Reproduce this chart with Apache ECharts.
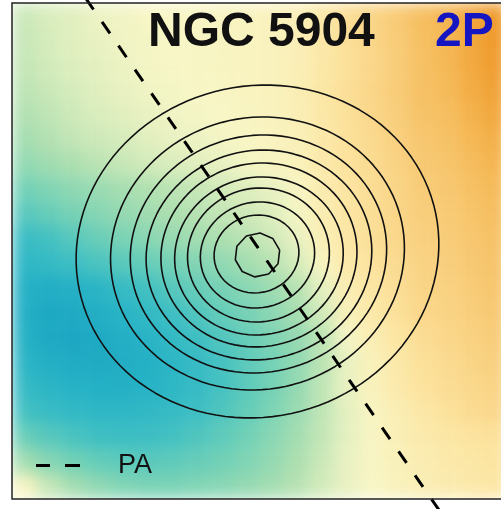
<!DOCTYPE html>
<html>
<head>
<meta charset="utf-8">
<script src="https://cdn.jsdelivr.net/npm/echarts@6/dist/echarts.min.js"></script>
<style>
  html, body { margin: 0; padding: 0; background: #ffffff; }
  #stage { position: relative; width: 501px; height: 509px; overflow: hidden; }
  #heatClip { position: absolute; left: 12px; top: 3px; width: 496px; height: 496px; overflow: hidden; }
  #heat { position: absolute; left: 0; top: 0; width: 496px; height: 496px; filter: url(#smooth); }
  #chart { position: absolute; left: 0; top: 0; width: 501px; height: 509px; }
</style>
</head>
<body>
<svg width="0" height="0" style="position:absolute">
  <defs>
    <filter id="smooth" x="0" y="0" width="1" height="1" color-interpolation-filters="sRGB">
      <feGaussianBlur stdDeviation="8" edgeMode="duplicate"/>
    </filter>
  </defs>
</svg>
<div id="stage">
  <div id="heatClip"><div id="heat"></div></div>
  <div id="chart"></div>
</div>
<script>
// Line-of-sight velocity map, 20 x 20 cells, rows from north (top) to south,
// columns from east (left) to west. Values in arbitrary km/s-like units.
const velocityRows = [
  [-1.2, -0.8, -0.6, -0.3, -0.2, 0.0, 0.0, 0.1, 0.2, 0.3, 0.5, 0.8, 1.6, 2.5, 3.3, 4.2, 5.2, 5.9, 6.9, 7.8],
  [-1.3, -0.9, -0.6, -0.4, -0.2, -0.1, 0.0, 0.1, 0.2, 0.3, 0.5, 0.8, 1.6, 2.4, 3.2, 4.1, 5.1, 5.8, 6.8, 7.8],
  [-1.4, -1.0, -0.7, -0.5, -0.3, -0.1, 0.0, 0.1, 0.2, 0.3, 0.5, 0.8, 1.6, 2.3, 3.1, 4.0, 5.0, 5.7, 6.7, 7.6],
  [-1.6, -1.2, -0.9, -0.6, -0.4, -0.2, -0.1, 0.0, 0.1, 0.3, 0.5, 0.9, 1.7, 2.4, 3.2, 4.1, 5.0, 5.5, 6.5, 7.3],
  [-1.9, -1.5, -1.1, -0.8, -0.6, -0.4, -0.2, -0.1, 0.0, 0.2, 0.4, 0.8, 1.6, 2.3, 3.1, 3.9, 4.8, 5.2, 6.1, 6.9],
  [-2.3, -1.8, -1.4, -1.1, -0.9, -0.6, -0.4, -0.3, -0.1, 0.1, 0.3, 0.7, 1.5, 2.2, 2.9, 3.7, 4.5, 4.9, 5.7, 6.4],
  [-2.9, -2.4, -2.0, -1.6, -1.3, -1.0, -0.8, -0.6, -0.4, -0.1, 0.2, 0.6, 1.4, 2.1, 2.8, 3.5, 4.3, 4.6, 5.3, 6.0],
  [-4.0, -3.5, -3.0, -2.6, -2.2, -1.9, -1.6, -1.3, -1.0, -0.7, -0.4, 0.1, 1.1, 1.9, 2.6, 3.3, 4.1, 4.4, 5.0, 5.6],
  [-5.0, -4.4, -3.8, -3.3, -2.8, -2.4, -2.0, -1.7, -1.4, -1.1, -0.7, -0.1, 1.0, 1.8, 2.5, 3.2, 3.9, 4.2, 4.7, 5.3],
  [-6.5, -5.8, -5.0, -4.3, -3.7, -3.2, -2.7, -2.3, -2.0, -1.6, -1.1, -0.4, 0.8, 1.7, 2.4, 3.1, 3.7, 4.0, 4.5, 5.0],
  [-7.4, -6.8, -6.1, -5.5, -4.9, -4.4, -3.9, -3.4, -2.9, -2.3, -1.7, -0.9, 0.2, 1.4, 2.1, 2.8, 3.5, 3.8, 4.3, 4.8],
  [-8.3, -8.7, -8.4, -7.6, -6.6, -5.8, -5.0, -4.4, -3.8, -3.2, -2.5, -1.7, -0.5, 1.0, 1.8, 2.5, 3.3, 3.6, 4.1, 4.6],
  [-8.6, -9.6, -9.4, -8.6, -7.8, -6.9, -6.0, -5.2, -4.5, -3.8, -3.1, -2.2, -1.0, 0.6, 1.5, 2.3, 3.1, 3.4, 3.9, 4.4],
  [-8.3, -9.5, -9.8, -9.4, -8.6, -7.8, -6.9, -6.0, -5.2, -4.4, -3.6, -2.8, -1.6, -0.1, 0.9, 1.8, 2.6, 3.1, 3.6, 4.1],
  [-7.6, -8.6, -9.2, -9.3, -8.9, -8.3, -7.5, -6.6, -5.7, -4.8, -3.9, -2.9, -1.6, -0.4, 0.6, 1.5, 2.3, 2.8, 3.3, 3.8],
  [-6.8, -7.6, -8.2, -8.5, -8.4, -8.0, -7.4, -6.6, -5.7, -4.8, -3.9, -2.8, -1.5, -0.4, 0.5, 1.3, 2.1, 2.6, 3.0, 3.5],
  [-5.8, -6.5, -7.0, -7.3, -7.3, -7.1, -6.6, -6.0, -5.3, -4.5, -3.6, -2.6, -1.5, -0.5, 0.2, 0.9, 1.6, 2.2, 2.7, 3.1],
  [-4.3, -5.0, -5.6, -6.0, -6.2, -6.1, -5.8, -5.3, -4.7, -4.0, -3.2, -2.3, -1.4, -0.5, 0.1, 0.8, 1.3, 1.7, 2.0, 2.3],
  [-2.3, -3.3, -4.0, -4.5, -4.8, -4.9, -4.7, -4.4, -4.0, -3.5, -2.8, -2.0, -1.2, -0.4, 0.1, 0.6, 1.0, 1.4, 1.7, 2.0],
  [0.2, -1.3, -2.3, -3.0, -3.5, -3.7, -3.7, -3.5, -3.2, -2.8, -2.3, -1.7, -1.0, -0.4, 0.0, 0.5, 0.9, 1.2, 1.5, 1.8]
];
const velocityMin = -10;
const velocityMax = 8;
const velocityColors = ['#1ca6c2', '#27b3c6', '#3fbfc3', '#72d1b6', '#addfb0', '#f8f6c6', '#fce4a0', '#f8cd7a', '#f4b550', '#ee9626'];

// Isophote contours (ellipses), outermost first, in arcsec from the field centre
const contourCenterX = [0.12, 0.12, 0.24, 0.30, 0.30, 0.30, 0.24, 0.12, 0.00, 0.12];
const contourCenterY = [-0.06, -0.30, -0.36, -0.48, -0.48, -0.60, -0.48, -0.48, -0.36, -0.48];
const contourMajor   = [22.35, 18.10, 15.79, 13.90, 12.07, 10.38, 8.73, 7.04, 5.23, 2.78];
const contourMinor   = [20.03, 16.44, 14.33, 12.64, 11.08, 9.52, 8.08, 6.39, 4.69, 2.66];
const contourAngle   = 12;   // major-axis orientation, degrees from +x
const contourVertices = [120, 120, 110, 100, 100, 90, 80, 64, 48, 10];

// Kinematic position angle (north through east) and kinematic centre
const paAngle = 35;
const paCenter = [0.79, -0.48];
const paHalfLength = 45;

const fieldHalfSize = 30;      // arcsec, half width of the map
const galaxyName = 'NGC 5904';
const panelTag = '2P';

const nCols = velocityRows[0].length;
const nRows = velocityRows.length;
const colNames = Array.from({ length: nCols }, (_, i) => 'c' + i);
const rowNames = Array.from({ length: nRows }, (_, j) => 'r' + j);

const heatData = [];
velocityRows.forEach((row, j) => row.forEach((v, i) => heatData.push([i, j, v])));

function ellipse(k) {
  const t = contourAngle * Math.PI / 180;
  const pts = [];
  const n = contourVertices[k];
  for (let s = 0; s <= n; s++) {
    const u = 2 * Math.PI * s / n;
    const ex = contourMajor[k] * Math.cos(u);
    const ey = contourMinor[k] * Math.sin(u);
    pts.push([
      contourCenterX[k] + ex * Math.cos(t) - ey * Math.sin(t),
      contourCenterY[k] + ex * Math.sin(t) + ey * Math.cos(t)
    ]);
  }
  return pts;
}

const pa = paAngle * Math.PI / 180;
const paDir = [-Math.sin(pa), Math.cos(pa)];
const paLine = [
  [paCenter[0] + paDir[0] * paHalfLength, paCenter[1] + paDir[1] * paHalfLength],
  [paCenter[0] - paDir[0] * paHalfLength, paCenter[1] - paDir[1] * paHalfLength]
];

const frame = { left: 12, top: 3, size: 496 };
const fontFamily = 'Liberation Sans, Arial, sans-serif';

// Background velocity field (its own layer so it can be smoothed)
const heat = echarts.init(document.getElementById('heat'), null, { renderer: 'canvas' });
heat.setOption({
  animation: false,
  grid: { left: 0, top: 0, right: 0, bottom: 0, show: false },
  xAxis: { type: 'category', data: colNames, show: false },
  yAxis: { type: 'category', data: rowNames, inverse: true, show: false },
  visualMap: {
    show: false, dimension: 2, min: velocityMin, max: velocityMax,
    inRange: { color: velocityColors }
  },
  series: [{
    type: 'heatmap', data: heatData, silent: true,
    itemStyle: { borderWidth: 0 }
  }]
});

// Contours, position-angle line, labels and frame
const contourSeries = contourMajor.map((_, k) => ({
  type: 'line',
  data: ellipse(k),
  showSymbol: false,
  symbol: 'none',
  silent: true,
  z: 3,
  lineStyle: { color: '#111111', width: 1.6 }
}));

const chart = echarts.init(document.getElementById('chart'), null, { renderer: 'canvas' });
chart.setOption({
  animation: false,
  backgroundColor: 'transparent',
  title: [
    {
      text: galaxyName, left: 148, top: 9, padding: 0,
      textStyle: { fontFamily, fontSize: 48, fontWeight: 'bold', color: '#111111' }
    },
    {
      text: panelTag, left: 435, top: 9, padding: 0,
      textStyle: { fontFamily, fontSize: 48, fontWeight: 'bold', color: '#1515c2' }
    }
  ],
  legend: {
    data: [{ name: 'PA', icon: 'path://M0 0H14V3H0Z M29 0H44V3H29Z' }],
    left: 36, top: 452, padding: 0,
    itemWidth: 44, itemHeight: 3,
    textStyle: { fontFamily, fontSize: 27, color: '#111111', padding: [0, 0, 0, 33] }
  },
  grid: { left: frame.left, top: frame.top, width: frame.size, height: frame.size, show: false },
  xAxis: { type: 'value', min: -fieldHalfSize, max: fieldHalfSize, show: false },
  yAxis: { type: 'value', min: -fieldHalfSize, max: fieldHalfSize, show: false },
  graphic: [
    {
      type: 'rect', z: 100, silent: true,
      shape: { x: frame.left, y: frame.top, width: frame.size, height: frame.size },
      style: { fill: 'none', stroke: '#222222', lineWidth: 1.5 }
    }
  ],
  series: [
    ...contourSeries,
    {
      name: 'PA',
      type: 'line',
      data: paLine,
      showSymbol: false,
      symbol: 'none',
      clip: false,
      silent: true,
      z: 5,
      itemStyle: { color: '#000000' },
      lineStyle: { color: '#000000', width: 3, type: [14, 15] }
    }
  ]
});
</script>
</body>
</html>
